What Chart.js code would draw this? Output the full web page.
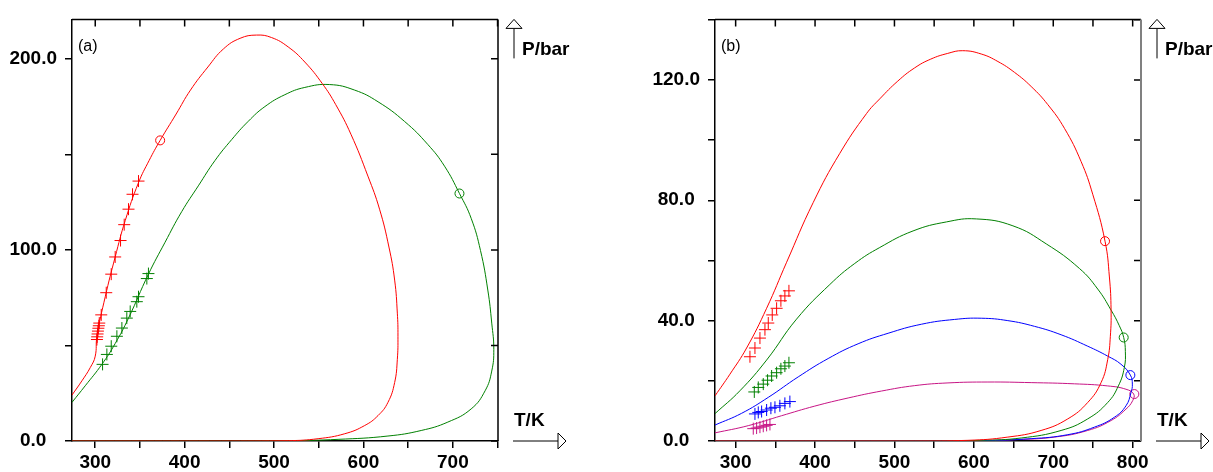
<!DOCTYPE html>
<html>
<head>
<meta charset="utf-8">
<script src="https://cdn.jsdelivr.net/npm/chart.js@4.4.1/dist/chart.umd.min.js"></script>
<style>
  body { margin: 0; background: #fff; }
  #wrap { position: relative; width: 1213px; height: 472px; }
  canvas { position: absolute; top: 0; }
</style>
</head>
<body>
<div id="wrap">
  <canvas id="chartA" width="600" height="472" style="left:0"></canvas>
  <canvas id="chartB" width="613" height="472" style="left:600px"></canvas>
</div>
<script>
// tick positions
const aTicksT = [300, 350, 400, 450, 500, 550, 600, 650, 700, 750];
const aTicksP = [0, 50, 100, 150, 200];
const bTicksT = [300, 350, 400, 450, 500, 550, 600, 650, 700, 750, 800];
const bTicksP = [0, 20, 40, 60, 80, 100, 120, 140];

// ---- panel (a): T/K and P/bar ----
const aRedT = [273.95, 285.1, 294.4, 300, 301.9, 311.2, 322.3, 333.5, 348.4, 360.3, 372.6, 390.5, 406.5, 426, 443.5, 462, 480.5, 497.2, 515.8, 534.4, 554, 569, 586, 605, 618, 628.5, 634.9, 637.9, 638.6, 637.9, 634.9, 627.4, 616.3, 601.4, 579.1, 549.3, 515.8, 441.4, 274];
const aRedP = [24, 31.5, 38.4, 44.4, 54.8, 75.5, 96.3, 115.3, 135.2, 146.8, 157.3, 171.1, 183.6, 195.7, 205.2, 210.7, 212.4, 211.1, 206.2, 198.3, 187, 176, 160.5, 138.6, 121.3, 101.5, 84.2, 66.9, 54.8, 42.7, 30.6, 20.2, 13.3, 8.1, 3.8, 1.2, 0.17, 0, 0];
const aGreenT = [273.95, 288.8, 307.4, 322.3, 337.2, 359.5, 378.1, 396.7, 415.3, 434, 452.6, 471.2, 489.8, 512.1, 534.4, 562.3, 590.2, 616.3, 646, 672.1, 690.7, 707.4, 720.5, 730.9, 739.1, 743.5, 745.8, 743.5, 736.1, 720.5, 694.4, 664.6, 627.4, 571.6, 515.8, 441.4, 274];
const aGreenP = [20.2, 28.9, 40.1, 51, 64.3, 87.3, 104, 120, 133.5, 146.8, 157.7, 167.3, 175, 181.2, 185, 186.5, 183.6, 177.5, 167.2, 155.1, 143.8, 129.5, 116.5, 99.7, 79, 61.7, 47.9, 36.6, 26.3, 16.8, 9.9, 5.5, 2.6, 0.86, 0.17, 0, 0];
const aRedExpT = [348.4, 341.7, 337.2, 332.4, 328.3, 322.3, 317.9, 312.3, 306.7, 304.5, 304, 303.5, 303, 302.6, 302.2, 301.9];
const aRedExpP = [136, 129.1, 121.3, 113.2, 104.9, 96.3, 87.3, 77.6, 66, 61.7, 60.3, 59, 57.5, 56, 54.5, 53.1];
const aGreenExpT = [359.5, 357.7, 348.4, 346.5, 339.1, 335.3, 329.8, 324.2, 317.9, 313, 308.2];
const aGreenExpP = [87.6, 85, 75.5, 72.9, 67.8, 64.3, 59.1, 54.8, 49.6, 45.3, 40.1];
const aCritT = [372.6, 707.4];
const aCritP = [157.3, 129.5];

// ---- panel (b) ----
const bRedT = [274, 292.8, 313.8, 339, 364.2, 397.6, 431.2, 464.8, 481.5, 504.2, 525.5, 545.7, 567.1, 586, 609.3, 630.3, 651.2, 672.2, 693.1, 714.1, 735, 749.7, 765.2, 770.7, 772.8, 771.9, 768.6, 760.2, 743.4, 718.3, 684.7, 642.8, 592.5, 525.5, 274];
const bRedP = [15, 22.2, 30.9, 44.1, 59.4, 79.2, 95.6, 108.8, 113.7, 119.6, 124, 126.9, 128.8, 129.7, 128.6, 126.1, 122.5, 117.8, 111.8, 103.9, 92.9, 82, 66.4, 54.5, 43.6, 34.8, 27.1, 19.4, 12.8, 7.35, 3.5, 1.3, 0.22, 0, 0];
const bGreenT = [274, 305.4, 339, 376.7, 418.6, 450, 481.5, 523.4, 565.4, 603.1, 649.2, 691.2, 733.1, 756, 772.8, 783.2, 788.7, 790.8, 789.5, 782, 768.6, 743.4, 709.9, 659.6, 609.3, 546.4, 274];
const bGreenP = [9.1, 16.7, 26.9, 40.5, 52, 59, 64.3, 69.8, 72.8, 73.8, 71.5, 65.5, 57.3, 50.5, 43.5, 38.3, 34.4, 29.8, 24.4, 18.3, 12.8, 7.35, 3.5, 1.0, 0.22, 0, 0];
const bBlueT = [274, 307.5, 341.1, 378.8, 416.5, 454.2, 492, 533.9, 575.8, 609.3, 642.8, 676.4, 709.9, 743.4, 768.6, 785.3, 797.1, 799.6, 797.9, 791.6, 777, 751.8, 718.3, 672.2, 609.3, 546.4, 274];
const bBlueP = [5.3, 9.2, 14.5, 21.3, 27.4, 32.3, 35.8, 38.8, 40.4, 40.8, 40, 38.1, 35.3, 31.5, 28.2, 25.5, 21.9, 18.9, 16.1, 11.7, 7.9, 4.6, 2.1, 0.77, 0.11, 0, 0];
const bMagT = [274, 315.9, 357.8, 399.7, 441.7, 483.6, 525.5, 567.4, 617.7, 672.2, 726.7, 768.6, 791.6, 801.3, 800, 791.6, 772.8, 743.4, 701.5, 651.2, 588.4, 274];
const bMagP = [2.7, 5.1, 8.4, 11.6, 14.3, 16.6, 18.4, 19.3, 19.6, 19.4, 19, 18.3, 17.2, 15.6, 13.4, 10.6, 6.8, 3.5, 1.3, 0.44, 0, 0];
const bRedExpT = [318, 324.3, 330.6, 336.9, 341.1, 346.1, 351.6, 357, 362, 367.1];
const bRedExpP = [28, 30.9, 34.2, 37, 39.2, 41.9, 44.1, 46.6, 48.2, 49.9];
const bGreenExpT = [323.5, 328.5, 334.8, 340.2, 345.3, 351.6, 357, 362, 367.1];
const bGreenExpP = [16.3, 17.8, 18.9, 20.2, 21.6, 22.7, 24, 24.9, 26];
const bBlueExpT = [324.3, 328.5, 332.7, 339, 344.4, 349.5, 355.7, 362, 368.3];
const bBlueExpP = [9, 9.5, 9.8, 10.3, 10.9, 11.2, 11.7, 12.5, 13.1];
const bMagExpT = [322.2, 326.4, 330.6, 334.8, 339, 343.2];
const bMagExpP = [4.1, 4.3, 4.6, 4.9, 5.2, 5.5];
const bCritT = [765.2, 788.7, 797.1, 802.1];
const bCritP = [66.4, 34.4, 21.9, 15.6];

const RED = '#ff0000', GREEN = '#008000', BLUE = '#0000ff', MAG = '#c71585';
const FONT = '"Liberation Sans", Arial, sans-serif';

const pts = (xs, ys) => xs.map((x, i) => ({ x: x, y: ys[i] }));

function curve(xs, ys, color) {
    return { data: pts(xs, ys), showLine: true, borderColor: color, borderWidth: 1,
             pointRadius: 0, tension: 0.45, fill: false };
}
function crosses(xs, ys, color) {
    return { data: pts(xs, ys), showLine: false, pointStyle: 'cross', pointRadius: 6,
             borderColor: color, borderWidth: 1 };
}
function circle(x, y, color) {
    return { data: [{ x: x, y: y }], showLine: false, pointStyle: 'circle', pointRadius: 4.5,
             borderColor: color, backgroundColor: 'rgba(0,0,0,0)', borderWidth: 1 };
}

// frame ticks on top/right, panel tag, axis arrows
const framePlugin = {
    id: 'frame',
    afterDraw(chart, args, opts) {
        const { ctx, chartArea: a, scales: { x, y } } = chart;
        ctx.save();
        ctx.lineWidth = 1.5;
        ctx.strokeStyle = '#000';
        ctx.beginPath();
        ctx.moveTo(a.left, a.top); ctx.lineTo(a.right, a.top);
        x.ticks.forEach(t => {
            const px = x.getPixelForValue(t.value);
            ctx.moveTo(px, a.top); ctx.lineTo(px, a.top + 7);
        });
        ctx.stroke();
        ctx.beginPath();
        y.ticks.forEach(t => {
            const py = y.getPixelForValue(t.value);
            ctx.moveTo(a.right - 7, py); ctx.lineTo(a.right, py);
        });
        ctx.stroke();
        ctx.strokeStyle = opts.rightColor;
        ctx.lineWidth = opts.rightWidth;
        ctx.beginPath();
        ctx.moveTo(a.right, a.top); ctx.lineTo(a.right, a.bottom);
        ctx.stroke();

        ctx.fillStyle = '#000';
        ctx.font = '16px ' + FONT;
        ctx.textBaseline = 'middle';
        ctx.textAlign = 'left';
        ctx.fillText(opts.tag, a.left + 6, a.top + 27);

        // P arrow
        ctx.lineWidth = 1;
        ctx.strokeStyle = '#000';
        const ax = a.right + 16;
        ctx.beginPath();
        ctx.moveTo(ax, a.top + 39); ctx.lineTo(ax, a.top + 9);
        ctx.stroke();
        ctx.beginPath();
        ctx.moveTo(ax - 8, a.top + 9); ctx.lineTo(ax + 8, a.top + 9); ctx.lineTo(ax, a.top);
        ctx.closePath();
        ctx.fillStyle = '#fff'; ctx.fill(); ctx.stroke();
        // T arrow
        ctx.beginPath();
        ctx.moveTo(a.right + 15, a.bottom); ctx.lineTo(a.right + 60, a.bottom);
        ctx.stroke();
        ctx.beginPath();
        ctx.moveTo(a.right + 60, a.bottom - 8); ctx.lineTo(a.right + 60, a.bottom + 8); ctx.lineTo(a.right + 68, a.bottom);
        ctx.closePath();
        ctx.fill(); ctx.stroke();

        ctx.fillStyle = '#000';
        ctx.font = 'bold 19px ' + FONT;
        ctx.fillText('P/bar', a.right + 24, a.top + 30);
        ctx.fillText('T/K', a.right + 16, a.bottom - 20);
        ctx.restore();
    }
};

function axes(xMin, xMax, xTicks, yMax, yTicks, yLabelEvery, yWidth) {
    const tickFont = { family: FONT, size: 19, weight: 'bold' };
    const grid = { drawOnChartArea: false, drawTicks: true, tickLength: 7, color: '#000', lineWidth: 1.5 };
    const border = { display: true, color: '#000', width: 1.5 };
    return {
        x: {
            type: 'linear', min: xMin, max: xMax,
            grid: grid, border: border,
            afterBuildTicks: s => { s.ticks = xTicks.map(v => ({ value: v })); },
            afterFit: s => { s.height = 31; },
            ticks: { font: tickFont, color: '#000', padding: 3, maxRotation: 0, autoSkip: false,
                     callback: v => (v % 100 === 0 ? String(v) : '') }
        },
        y: {
            type: 'linear', min: 0, max: yMax,
            grid: grid, border: border,
            afterBuildTicks: s => { s.ticks = yTicks.map(v => ({ value: v })); },
            afterFit: s => { s.width = yWidth; },
            ticks: { font: tickFont, color: '#000', padding: 8, crossAlign: 'center', autoSkip: false,
                     callback: v => (v % yLabelEvery === 0 ? v.toFixed(1) : '') }
        }
    };
}

function makeChart(id, datasets, scales, padRight, frameOpts) {
    return new Chart(document.getElementById(id), {
        type: 'scatter',
        data: { datasets: datasets },
        options: {
            responsive: false,
            animation: false,
            devicePixelRatio: 1,
            layout: { padding: { top: 15, right: padRight, left: 0, bottom: 0 } },
            scales: scales,
            plugins: { legend: { display: false }, tooltip: { enabled: false }, frame: frameOpts }
        },
        plugins: [framePlugin]
    });
}

makeChart('chartA', [
    curve(aRedT, aRedP, RED),
    curve(aGreenT, aGreenP, GREEN),
    crosses(aRedExpT, aRedExpP, RED),
    crosses(aGreenExpT, aGreenExpP, GREEN),
    circle(aCritT[0], aCritP[0], RED),
    circle(aCritT[1], aCritP[1], GREEN)
], axes(274, 750.5, aTicksT, 220.6, aTicksP, 100, 72), 102, { tag: '(a)', rightColor: '#000', rightWidth: 1.5 });

makeChart('chartB', [
    curve(bRedT, bRedP, RED),
    curve(bGreenT, bGreenP, GREEN),
    curve(bBlueT, bBlueP, BLUE),
    curve(bMagT, bMagP, MAG),
    crosses(bRedExpT, bRedExpP, RED),
    crosses(bGreenExpT, bGreenExpP, GREEN),
    crosses(bBlueExpT, bBlueExpP, BLUE),
    crosses(bMagExpT, bMagExpP, MAG),
    circle(bCritT[0], bCritP[0], RED),
    circle(bCritT[1], bCritP[1], GREEN),
    circle(bCritT[2], bCritP[2], BLUE),
    circle(bCritT[3], bCritP[3], MAG)
], axes(274, 810.5, bTicksT, 140.1, bTicksP, 40, 115), 72, { tag: '(b)', rightColor: '#808080', rightWidth: 2 });
</script>
</body>
</html>
